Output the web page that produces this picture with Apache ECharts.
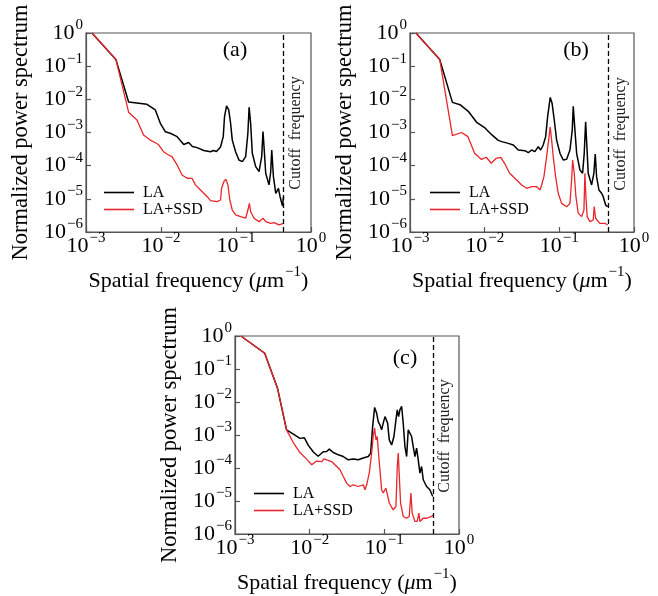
<!DOCTYPE html>
<html><head><meta charset="utf-8">
<script src="https://cdn.jsdelivr.net/npm/echarts@6/dist/echarts.min.js"></script>
<style>html,body{margin:0;padding:0;background:#fff}#c{width:658px;height:596px}</style>
</head><body><div id="c"></div>
<script>
// ---------- data (spatial frequency in um^-1, normalized power) ----------
const xTicks = [0.001, 0.01, 0.1, 1];
const yTicks = [1e-6, 1e-5, 1e-4, 1e-3, 1e-2, 1e-1, 1];

const cutoffA = 0.43, cutoffB = 0.445, cutoffC = 0.445;

// panel (a)
const fA_LA = [0.0012,0.0025,0.0037,0.0065,0.0084,0.0098,0.0114,0.0133,0.0164,0.0201,0.0234,0.0262,0.0303,0.0372,0.0457,0.050,0.055,0.0622,0.0676,0.0703,0.0748,0.080,0.0847,0.0892,0.0988,0.1094,0.1214,0.1345,0.144,0.1496,0.1567,0.165,0.183,0.203,0.220,0.229,0.2365,0.249,0.2755,0.290,0.2996,0.3155,0.339,0.368,0.387,0.417,0.43];
const pA_LA = [1,0.16,0.0083,0.0071,0.0048,0.0019,0.00106,0.00095,0.00075,0.000435,0.0005,0.00038,0.00035,0.000287,0.000264,0.000287,0.000268,0.000366,0.00075,0.0030,0.0063,0.0048,0.0019,0.00059,0.000264,0.000148,0.000132,0.000187,0.00095,0.0058,0.0019,0.000236,0.0000933,0.000066,0.000187,0.00106,0.000373,0.0000589,0.0000263,0.0000645,0.000297,0.0000466,0.0000147,0.0000208,0.0000116,0.0000061,0.0000114];
const fA_SSD = [0.0012,0.0025,0.0037,0.00478,0.00585,0.0072,0.0084,0.0092,0.0108,0.0126,0.0140,0.0164,0.0191,0.0223,0.026,0.0288,0.0336,0.0372,0.0413,0.0457,0.0562,0.0622,0.0642,0.0689,0.0733,0.078,0.0828,0.0892,0.0988,0.1153,0.1345,0.144,0.1507,0.1567,0.174,0.203,0.229,0.249,0.290,0.321,0.375,0.43];
const pA_SSD = [1,0.16,0.0041,0.00238,0.00084,0.00059,0.00049,0.000435,0.000264,0.00021,0.000187,0.000105,0.0000525,0.0000417,0.0000411,0.0000263,0.0000185,0.0000147,0.0000116,0.0000088,0.0000082,0.0000092,0.0000208,0.0000329,0.0000389,0.0000263,0.0000092,0.0000046,0.0000033,0.0000029,0.0000026,0.0000046,0.0000073,0.0000041,0.0000026,0.00000205,0.0000026,0.00000205,0.00000183,0.00000191,0.00000163,0.00000183];

// panel (b)
const fB_LA = [0.0012,0.0025,0.0037,0.00467,0.00603,0.0078,0.0101,0.0124,0.0152,0.0169,0.0207,0.0242,0.0282,0.0346,0.0384,0.0426,0.0471,0.0522,0.0562,0.0608,0.0656,0.0697,0.0755,0.080,0.0855,0.092,0.102,0.1127,0.1253,0.1387,0.149,0.1535,0.1617,0.1705,0.1888,0.205,0.2155,0.225,0.234,0.2436,0.2705,0.290,0.3025,0.3155,0.339,0.368,0.387,0.417,0.445];
const pB_LA = [1,0.16,0.0081,0.0069,0.00436,0.00203,0.00137,0.00086,0.00058,0.00053,0.00047,0.00042,0.000297,0.000283,0.000246,0.000297,0.000264,0.000373,0.000297,0.00042,0.00075,0.0030,0.0114,0.0076,0.00238,0.00059,0.000236,0.000148,0.000156,0.000297,0.00119,0.0062,0.00119,0.000236,0.0000741,0.0000589,0.000236,0.00212,0.000373,0.0000589,0.0000262,0.0000589,0.000225,0.0000466,0.0000185,0.0000147,0.0000116,0.0000065,0.0000058];
const fB_SSD = [0.0012,0.0025,0.0037,0.00489,0.00597,0.00734,0.00906,0.0105,0.01225,0.0143,0.0164,0.0185,0.0216,0.0268,0.0313,0.0365,0.0426,0.0497,0.055,0.058,0.0622,0.0676,0.071,0.0755,0.0789,0.0828,0.0892,0.0966,0.1073,0.1253,0.1387,0.146,0.1507,0.1584,0.1668,0.179,0.199,0.2135,0.220,0.227,0.236,0.257,0.2845,0.293,0.306,0.349,0.407,0.445];
const pB_SSD = [1,0.16,0.0008,0.001,0.00075,0.000236,0.000154,0.000179,0.000118,0.000167,0.000179,0.000118,0.0000589,0.000037,0.0000262,0.0000208,0.0000232,0.0000232,0.0000185,0.0000262,0.0000466,0.000187,0.00047,0.00147,0.00059,0.000187,0.0000466,0.0000147,0.0000073,0.0000058,0.0000073,0.000037,0.000148,0.0000589,0.0000116,0.0000037,0.0000029,0.0000046,0.0000589,0.0000116,0.0000029,0.00000205,0.0000023,0.0000058,0.0000026,0.00000183,0.00000183,0.00000163];

// panel (c)
const fC_LA = [0.0012,0.0025,0.0037,0.0049,0.00635,0.0074,0.0085,0.0096,0.0112,0.0130,0.0152,0.0169,0.0183,0.0207,0.0242,0.0282,0.0329,0.0384,0.0448,0.0522,0.0609,0.0656,0.0697,0.0741,0.0789,0.0828,0.0873,0.092,0.0966,0.102,0.1073,0.1107,0.1164,0.1253,0.1345,0.143,0.149,0.1552,0.1617,0.1705,0.179,0.1888,0.199,0.209,0.220,0.2318,0.2436,0.257,0.2705,0.2845,0.2996,0.3155,0.332,0.368,0.407,0.445];
const pC_LA = [1,0.3,0.0267,0.00143,0.00099,0.00079,0.00082,0.000486,0.000305,0.000226,0.00031,0.000316,0.000373,0.000294,0.000251,0.000223,0.000177,0.000186,0.000177,0.0002,0.000223,0.000282,0.0018,0.00687,0.00458,0.00255,0.00203,0.00143,0.00229,0.00361,0.0041,0.00229,0.00071,0.0005,0.0009,0.00287,0.00577,0.00361,0.00577,0.00746,0.00229,0.000447,0.000223,0.00143,0.00114,0.0009,0.000447,0.000223,0.0004,0.000177,0.00007,0.000111,0.000044,0.0000275,0.0000219,0.0000137];
const fC_SSD = [0.0012,0.0025,0.0037,0.0049,0.00603,0.0074,0.0091,0.01064,0.0124,0.0145,0.0155,0.0169,0.0197,0.0218,0.0255,0.0282,0.0313,0.0346,0.0384,0.0448,0.0522,0.055,0.058,0.0628,0.0676,0.071,0.0741,0.0773,0.0804,0.0828,0.0873,0.092,0.0966,0.105,0.1094,0.1164,0.1315,0.143,0.149,0.1535,0.158,0.165,0.179,0.199,0.2155,0.227,0.236,0.257,0.2755,0.290,0.2996,0.332,0.368,0.43,0.445];
const pC_SSD = [1,0.3,0.0267,0.00143,0.00059,0.000294,0.000186,0.000125,0.000162,0.000157,0.00019,0.000177,0.000157,0.000125,0.0000883,0.0000553,0.0000349,0.0000275,0.000031,0.0000275,0.000031,0.0000219,0.000031,0.00007,0.000282,0.0009,0.00161,0.00071,0.0009,0.000356,0.0000883,0.0000219,0.0000174,0.0000247,0.0000219,0.0000087,0.0000054,0.0000068,0.000111,0.000282,0.00007,0.0000087,0.0000034,0.000003,0.0000034,0.0000174,0.0000043,0.0000024,0.0000024,0.0000043,0.0000024,0.000003,0.000003,0.0000034,0.0000037];

const seriesNames = ['LA', 'LA+SSD'];
const panelTags = ['(a)', '(b)', '(c)'];
const cutoffText = 'Cutoff  frequency';
const xTitle = 'Spatial frequency';
const yTitle = 'Normalized power spectrum';

// ---------- layout ----------
const FONT = 'Liberation Serif';
const RED = '#e8262b';
const FRAME = '#555';
const panels = [
  {g:{left:86, top:33, width:225, height:199}, fLA:fA_LA, pLA:pA_LA, fS:fA_SSD, pS:pA_SSD, cut:cutoffA, lg:{left:99, top:179}, tag:[235,50], ct:[296,133]},
  {g:{left:410, top:33, width:224, height:199}, fLA:fB_LA, pLA:pB_LA, fS:fB_SSD, pS:pB_SSD, cut:cutoffB, lg:{left:425, top:179}, tag:[576,50], ct:[621,134]},
  {g:{left:235, top:336, width:224, height:198}, fLA:fC_LA, pLA:pC_LA, fS:fC_SSD, pS:pC_SSD, cut:cutoffC, lg:{left:249, top:480}, tag:[405,358], ct:[445,436]}
];

function zip(a, b) { return a.map((v, i) => [v, b[i]]); }
function expLabel(v) {
  const e = Math.round(Math.log10(v));
  return '{b|10}{s|' + (e < 0 ? '\u2212' + (-e) : String(e)) + '}';
}
const tickRich = {
  b: {fontFamily: FONT, fontSize: 22, color: '#000', verticalAlign: 'bottom', lineHeight: 22},
  s: {fontFamily: FONT, fontSize: 15, color: '#000', verticalAlign: 'bottom', lineHeight: 15, padding: [0, 0, 11, 1]}
};

const option = {
  animation: false,
  backgroundColor: '#fff',
  grid: [], xAxis: [], yAxis: [], series: [], legend: [], graphic: []
};

panels.forEach((p, i) => {
  option.grid.push(Object.assign({show: true, borderColor: FRAME, borderWidth: 1.2, backgroundColor: 'transparent'}, p.g));
  option.xAxis.push({
    type: 'log', logBase: 10, gridIndex: i, min: xTicks[0], max: xTicks[xTicks.length - 1], splitNumber: xTicks.length - 1,
    axisLine: {show: true, lineStyle: {color: FRAME, width: 1.2}},
    axisTick: {show: true, inside: true, length: 5, lineStyle: {color: FRAME, width: 1.2}},
    minorTick: {show: false}, splitLine: {show: false},
    axisLabel: {margin: 3, formatter: expLabel, rich: tickRich},
    name: '{n|' + xTitle + ' (}{i|\u03bc}{n|m}{s|\u22121}{n|)}', nameLocation: 'middle', nameGap: 36,
    nameTextStyle: {rich: {
      n: {fontFamily: FONT, fontSize: 22, color: '#000', verticalAlign: 'bottom', lineHeight: 24},
      i: {fontFamily: FONT, fontSize: 22, fontStyle: 'italic', color: '#000', verticalAlign: 'bottom', lineHeight: 24},
      s: {fontFamily: FONT, fontSize: 15, color: '#000', verticalAlign: 'bottom', lineHeight: 15, padding: [0, 0, 12, 1]}
    }}
  });
  option.yAxis.push({
    type: 'log', logBase: 10, gridIndex: i, min: yTicks[0], max: yTicks[yTicks.length - 1], splitNumber: yTicks.length - 1,
    axisLine: {show: true, lineStyle: {color: FRAME, width: 1.2}},
    axisTick: {show: true, inside: true, length: 5, lineStyle: {color: FRAME, width: 1.2}},
    minorTick: {show: false}, splitLine: {show: false},
    axisLabel: {margin: 3, formatter: expLabel, rich: tickRich},
    name: yTitle, nameLocation: 'middle', nameGap: 53,
    nameTextStyle: {fontFamily: FONT, fontSize: 22.5, color: '#000'}
  });
  option.series.push({
    name: seriesNames[0], type: 'line', xAxisIndex: i, yAxisIndex: i, data: zip(p.fLA, p.pLA),
    symbol: 'none', showSymbol: false, lineStyle: {color: '#000', width: 1.5}, itemStyle: {color: '#000'}, z: 3,
    markLine: {silent: true, symbol: ['none', 'none'], label: {show: false},
      lineStyle: {type: [5, 3], color: '#000', width: 1.3}, data: [{xAxis: p.cut}]}
  });
  option.series.push({
    name: seriesNames[1], type: 'line', xAxisIndex: i, yAxisIndex: i, data: zip(p.fS, p.pS),
    symbol: 'none', showSymbol: false, lineStyle: {color: RED, width: 1.3}, itemStyle: {color: RED}, z: 4
  });
  option.legend.push({
    left: p.lg.left, top: p.lg.top, orient: 'vertical', icon: 'rect', itemWidth: 30, itemHeight: 1.6, itemGap: 0,
    data: seriesNames, selectedMode: false,
    textStyle: {fontFamily: FONT, fontSize: 16, lineHeight: 17, color: '#000', padding: [0, 0, 0, 4]}
  });
  option.graphic.push({
    type: 'text', x: p.tag[0], y: p.tag[1],
    style: {text: panelTags[i], fontFamily: FONT, fontSize: 22, fill: '#000', align: 'center', verticalAlign: 'middle'}
  });
  option.graphic.push({
    type: 'text', x: p.ct[0], y: p.ct[1], rotation: Math.PI / 2,
    style: {text: cutoffText, fontFamily: FONT, fontSize: 16, fill: '#222', align: 'center', verticalAlign: 'middle'}
  });
});

const chart = echarts.init(document.getElementById('c'), null, {renderer: 'canvas'});
chart.setOption(option);
</script>
</body></html>
